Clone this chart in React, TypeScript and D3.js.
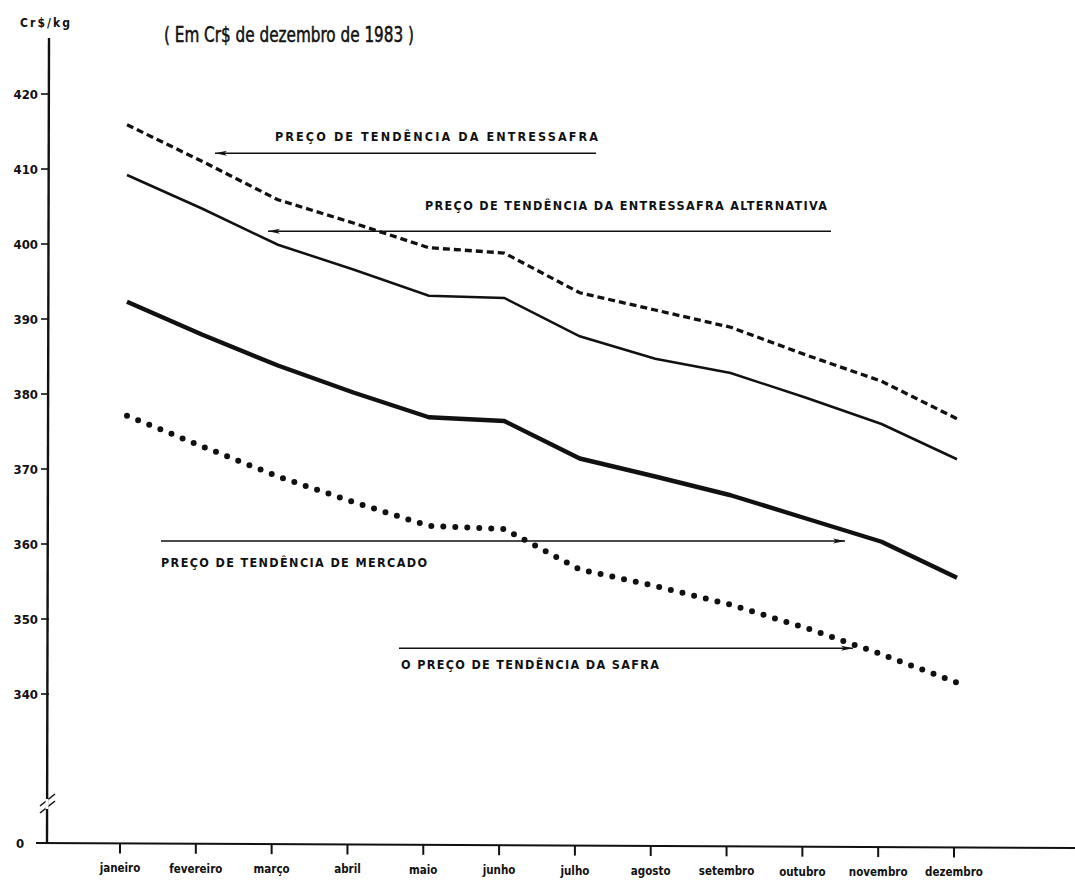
import React from 'react';
import * as d3 from 'd3';

const months = ['janeiro', 'fevereiro', 'março', 'abril', 'maio', 'junho', 'julho', 'agosto', 'setembro', 'outubro', 'novembro', 'dezembro'];
const yTicks = [420, 410, 400, 390, 380, 370, 360, 350, 340];

const entressafra = [415.9, 411.0, 405.9, 402.8, 399.5, 398.8, 393.5, 391.2, 388.9, 385.2, 381.7, 376.7];
const alternativa = [409.2, 404.7, 399.9, 396.6, 393.1, 392.8, 387.7, 384.7, 382.8, 379.5, 376.0, 371.3];
const mercado = [392.3, 387.9, 383.8, 380.2, 376.9, 376.4, 371.4, 369.0, 366.5, 363.4, 360.3, 355.5];
const safra = [377.1, 373.0, 369.0, 365.6, 362.4, 362.0, 356.6, 354.4, 351.9, 348.8, 345.3, 341.5];

const W = 1075;
const H = 882;
const FONT = "'DejaVu Sans Condensed', 'DejaVu Sans', sans-serif";

export default function App() {
  const xData = d3.scalePoint<string>().domain(months).range([127, 957]);
  const xTick = d3.scalePoint<string>().domain(months).range([120, 954]);
  const y = d3.scaleLinear().domain([340, 420]).range([694, 94]);
  const axisX = 49;
  const baseY = 843;

  const line = d3
    .line<number>()
    .x((_, i) => xData(months[i]) as number)
    .y((d) => y(d));

  const annotations = [
    { text: 'PREÇO DE TENDÊNCIA DA ENTRESSAFRA', tx: 275, tv: 414.3, tw: 323, ax1: 215, ax2: 596, av: 412.1, dir: 'left' },
    { text: 'PREÇO DE TENDÊNCIA DA ENTRESSAFRA ALTERNATIVA', tx: 425, tv: 405.1, tw: 402, ax1: 268, ax2: 831, av: 401.7, dir: 'left' },
    { text: 'PREÇO DE TENDÊNCIA DE MERCADO', tx: 161, tv: 357.5, tw: 266, ax1: 161, ax2: 845, av: 360.4, dir: 'right' },
    { text: 'O PREÇO DE TENDÊNCIA DA SAFRA', tx: 401, tv: 343.9, tw: 258, ax1: 399, ax2: 853, av: 346.1, dir: 'right' },
  ];

  return (
    <svg width={W} height={H} style={{ position: 'absolute', left: 0, top: 0, background: '#fff' }}>
      <defs>
        <marker id="ahR" viewBox="0 0 12 6" refX="12" refY="3" markerWidth="12" markerHeight="6" markerUnits="userSpaceOnUse" orient="auto">
          <path d="M0,0.5 L12,3 L0,5.5 L3,3 Z" fill="#111" />
        </marker>
        <marker id="ahL" viewBox="0 0 12 6" refX="0" refY="3" markerWidth="12" markerHeight="6" markerUnits="userSpaceOnUse" orient="auto">
          <path d="M12,0.5 L0,3 L12,5.5 L9,3 Z" fill="#111" />
        </marker>
      </defs>

      {/* y axis */}
      <line x1={axisX} y1={38} x2={axisX - 2} y2={baseY} stroke="#111" strokeWidth={2.4} />
      {/* axis break */}
      <line x1={40} y1={806} x2={55} y2={794} stroke="#111" strokeWidth={1.6} />
      <line x1={40} y1={813} x2={55} y2={801} stroke="#111" strokeWidth={1.6} />
      <line x1={axisX - 2} y1={799} x2={axisX - 2} y2={809} stroke="#fff" strokeWidth={3} />
      {yTicks.map((t) => (
        <g key={t}>
          <line x1={41} y1={y(t)} x2={axisX} y2={y(t)} stroke="#111" strokeWidth={1.6} />
          <text x={38} y={y(t)} dy="0.35em" textAnchor="end" fontFamily={FONT} fontWeight="bold" fontSize={13} fill="#111">
            {t}
          </text>
        </g>
      ))}
      <text x={20} y={baseY} dy="0.35em" textAnchor="middle" fontFamily={FONT} fontWeight="bold" fontSize={13} fill="#111">0</text>
      <text x={20} y={27} fontFamily={FONT} fontWeight="bold" fontSize={12} fill="#111" textLength={50} lengthAdjust="spacing">Cr$/kg</text>

      {/* title */}
      <text x={164} y={42} fontFamily={FONT} fontSize={21} fill="#111" stroke="#111" strokeWidth={0.5} textLength={250} lengthAdjust="spacingAndGlyphs">
        ( Em Cr$ de dezembro de 1983 )
      </text>

      {/* x axis */}
      <line x1={36} y1={baseY} x2={W} y2={baseY + 5} stroke="#111" strokeWidth={2} />
      {months.map((m) => {
        const xx = xTick(m) as number;
        const yy = baseY + ((xx - 36) / (W - 36)) * 5;
        return (
          <g key={m}>
            <line x1={xx} y1={yy} x2={xx} y2={yy + 10} stroke="#111" strokeWidth={2} />
            <text x={xx} y={yy + 29} textAnchor="middle" fontFamily={FONT} fontWeight="bold" fontSize={11.5} fill="#111">
              {m}
            </text>
          </g>
        );
      })}

      {/* series */}
      <path d={line(entressafra) || ''} fill="none" stroke="#111" strokeWidth={3.3} strokeDasharray="7 4" />
      <path d={line(alternativa) || ''} fill="none" stroke="#111" strokeWidth={2.5} />
      <path d={line(mercado) || ''} fill="none" stroke="#111" strokeWidth={4.4} strokeLinejoin="round" />
      <path d={line(safra) || ''} fill="none" stroke="#111" strokeWidth={6} strokeLinecap="round" strokeDasharray="0 12" />

      {/* annotations */}
      {annotations.map((a) => (
        <g key={a.text}>
          <line
            x1={a.ax1}
            y1={y(a.av)}
            x2={a.ax2}
            y2={y(a.av)}
            stroke="#111"
            strokeWidth={1.4}
            markerStart={a.dir === 'left' ? 'url(#ahL)' : undefined}
            markerEnd={a.dir === 'right' ? 'url(#ahR)' : undefined}
          />
          <text x={a.tx} y={y(a.tv)} dy="0.35em" fontFamily={FONT} fontWeight="bold" fontSize={12.5} fill="#111" textLength={a.tw} lengthAdjust="spacing">
            {a.text}
          </text>
        </g>
      ))}
    </svg>
  );
}
